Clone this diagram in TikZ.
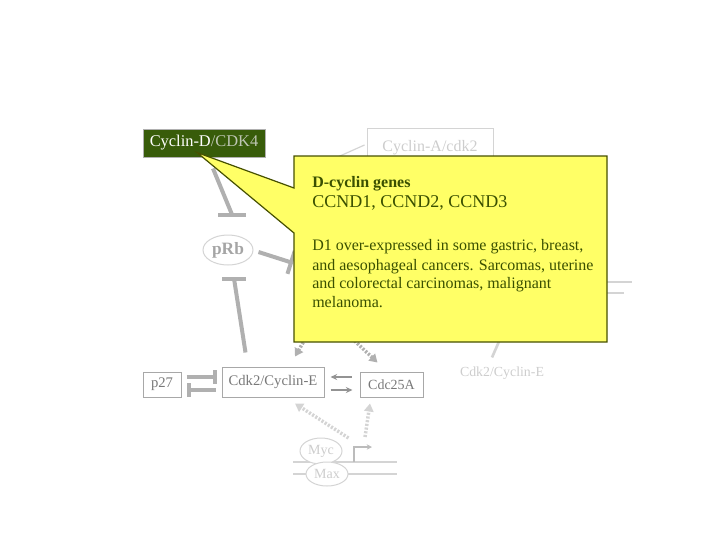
\documentclass[tikz,border=0pt]{standalone}
\usepackage{fontspec}
\setmainfont{Liberation Serif}
\usetikzlibrary{arrows.meta,calc,shapes.geometric}
\definecolor{dkgreen}{RGB}{56,92,10}
\definecolor{cdkgray}{RGB}{190,198,180}
\definecolor{olivetxt}{RGB}{58,80,0}
\definecolor{callborder}{RGB}{70,80,0}
\definecolor{callfill}{RGB}{255,255,102}
\definecolor{lgray}{RGB}{176,176,176}
\definecolor{bgray}{RGB}{168,168,168}
\definecolor{tgray}{RGB}{120,120,120}
\definecolor{pgray}{RGB}{165,165,165}
\definecolor{fgray}{RGB}{212,212,212}
\definecolor{ftext}{RGB}{205,205,205}
\begin{document}
\begin{tikzpicture}[x=0.75pt,y=-0.75pt,
  box/.style={draw=bgray, line width=0.75pt, inner sep=0pt, text=tgray},
  inh/.style={draw=lgray, line width=3pt},
  thinarr/.style={draw=tgray!80, line width=1.2pt, -{Stealth[length=5pt,width=4.5pt]}},
  dotarr/.style={draw=lgray, line width=2.6pt, dash pattern=on 1.6pt off 1.2pt, -{Triangle[length=6pt,width=7pt]}},
  dotarrf/.style={draw=fgray, line width=2.6pt, dash pattern=on 1.6pt off 1.2pt, -{Triangle[length=6pt,width=7pt]}},
  fline/.style={draw=fgray, line width=0.9pt},
  calltxt/.style={text=olivetxt, inner sep=0pt, anchor=base west}]
\useasboundingbox (0,0) rectangle (720,540);

% faint background elements
\draw[fline] (460,282) -- (632,282);
\draw[fline] (460,293) -- (624,293);
\coordinate (h3) at (512,312);
\node[text=ftext, font=\fontsize{10.4}{12}\selectfont, inner sep=0pt] (cdk2r) at (502,373) {Cdk2/Cyclin-E};
\draw[draw=fgray, line width=2pt] (h3) -- ($(cdk2r.north)+(-10,-9)$);

% boxes
\node[box, fill=dkgreen, draw=lgray, minimum width=91.5pt, minimum height=21pt,
      font=\fontsize{12.3}{14}\selectfont] (cycD) at (204,143)
      {\textcolor{white}{Cyclin-D}\textcolor{cdkgray}{/CDK4}};
\node[box, draw=fgray, text=ftext, minimum width=94.5pt, minimum height=30pt,
      font=\fontsize{12}{14}\selectfont] (cycA) at (430,148) {\raisebox{1.5pt}{Cyclin-A/cdk2}};
\node[ellipse, draw=fgray, line width=0.75pt, text=pgray, minimum width=37.5pt, minimum height=22.5pt,
      inner sep=0pt, font=\bfseries\fontsize{13}{15}\selectfont] (pRb) at (228,250) {pRb};
\node[box, minimum width=28.5pt, minimum height=18.75pt, font=\fontsize{11}{13}\selectfont] (p27) at (162,384.5) {p27};
\node[box, minimum width=76.5pt, minimum height=22.5pt, font=\fontsize{11}{13}\selectfont] (cdk2) at (273,382) {Cdk2/Cyclin-E};
\node[box, minimum width=47.25pt, minimum height=18.75pt, font=\fontsize{10.5}{12}\selectfont] (cdc) at (391.5,384.5) {Cdc25A};

% faint line to Cyclin-A
\coordinate (h2) at (322,164);
\draw[fline] (h2) -- ($(cycA.west)+(-2,-3)$);

% inhibition Cyclin-D -| pRb
\draw[inh] ($(cycD.south)+(9,11)$) -- ($(pRb.north)+(4,-20)$) coordinate (a2);
\draw[inh] ($(a2)+(-14,0)$) -- ($(a2)+(14,0)$);
% pRb -| (hidden)
\coordinate (prbT) at (293,263);
\draw[inh, -{Bar[width=18pt]}] ($(pRb.east)+(5,2)$) -- (prbT);
% Cdk2 -| pRb
\draw[inh] ($(cdk2.north west)+(24,-14)$) -- ($(pRb.south)+(6,13)$) coordinate (b2);
\draw[inh] ($(b2)+(-12,0)$) -- ($(b2)+(12,0)$);
% p27 <-> Cdk2 mutual inhibition
\draw[inh, -{Bar[width=10pt]}] ($(p27.east)+(5,-7.5)$) -- ($(cdk2.west)+(-5,-5)$);
\draw[inh, {Bar[width=10pt]}-] ($(p27.east)+(5,5.5)$) -- ($(cdk2.west)+(-6,8)$);
% Cdk2 <-> Cdc25A
\draw[thinarr] ($(cdc.west)+(-8,-7.5)$) -- ($(cdk2.east)+(6,-5)$);
\draw[thinarr] ($(cdk2.east)+(6,8)$) -- ($(cdc.west)+(-7,5.5)$);
% dotted arrows from hidden source
\coordinate (hid) at (322,310);
\draw[dotarr] (hid) -- ($(cdk2.north)+(22,-10)$);
\draw[dotarr] (hid) -- ($(cdc.north)+(-14,-9)$);

% Myc / Max and promoter
\coordinate (dna1) at (293,462);
\coordinate (dna2) at (293,474);
\draw[fline] (dna1) -- ++(104,0);
\draw[fline] (dna2) -- ++(104,0);
\node[ellipse, draw=fgray, fill=white, line width=0.75pt, text=ftext, minimum width=31.5pt, minimum height=19.5pt,
      inner sep=0pt, font=\fontsize{10.5}{12}\selectfont] (myc) at (321,451) {Myc};
\node[ellipse, draw=fgray, fill=white, line width=0.75pt, text=ftext, minimum width=31.5pt, minimum height=18pt,
      inner sep=0pt, font=\fontsize{10.5}{12}\selectfont] (max) at (327,474) {Max};
\coordinate (prom) at (354,462);
\draw[draw=lgray!85, line width=1.5pt, -{Stealth[length=4pt,width=4pt]}] (prom) -- ++(0,-15) -- ++(18,0);
\draw[dotarrf] ($(myc.east)+(6,-13)$) -- ($(cdk2.south)+(22,6)$);
\draw[dotarrf] ($(prom)+(11,-25)$) -- ($(cdc.south)+(-21.5,6)$);

% callout
\fill[callfill, draw=callborder, line width=0.9pt, line join=miter]
  (294,156) -- (607,156) -- (607,342) -- (294,342) -- (294,233) -- ($(cycD.south)+(-7,-5)$) coordinate (tip) -- (294,188) -- cycle;
\node[calltxt, font=\bfseries\fontsize{12}{14}\selectfont] (cg) at (312,187) {D-cyclin genes};
\node[calltxt, font=\fontsize{13.5}{16}\selectfont] (cc) at (312,207) {CCND1, CCND2, CCND3};
\node[calltxt, font=\fontsize{12}{14}\selectfont] (l1) at (312,250) {D1 over-expressed in some gastric, breast,};
\node[calltxt, font=\fontsize{12}{14}\selectfont] (l2) at (312,270) {and aesophageal cancers. Sarcomas, uterine};
\node[calltxt, font=\fontsize{12}{14}\selectfont] (l3) at (312,288) {and colorectal carcinomas, malignant};
\node[calltxt, font=\fontsize{12}{14}\selectfont] (l4) at (312,307) {melanoma.};
\end{tikzpicture}
\end{document}
